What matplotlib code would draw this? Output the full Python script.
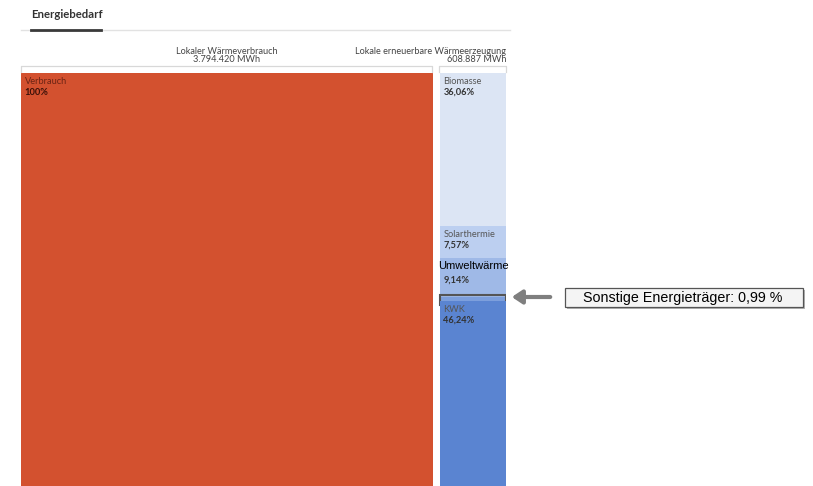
from matplotlib import pyplot as plt
from matplotlib.patches import Rectangle, FancyArrowPatch
import matplotlib

matplotlib.rc("font", family=["Lato", "DejaVu Sans"])

# Daten
verbrauch_mwh = 3794420
erzeugung_mwh = 608887
kopf_links = ["Lokaler Wärmeverbrauch", "3.794.420 MWh"]
kopf_rechts = ["Lokale erneuerbare Wärmeerzeugung", "608.887 MWh"]

traeger = ["Biomasse", "Solarthermie", "Umweltwärme", "Sonstige", "KWK"]
anteile = [36.06, 7.57, 9.14, 0.99, 46.24]
anteil_text = ["36,06%", "7,57%", "9,14%", "", "46,24%"]
farben = ["#dce5f4", "#bccff0", "#9fb9e7", "#7d9fdc", "#5a84d1"]

W, H = 813, 486
fig = plt.figure(figsize=(W / 100, H / 100), dpi=100)

def px(x, y):
    return x / W, 1 - y / H

# Achse: links 21px, rechts 506px, oben 73px, unten 497px (unten abgeschnitten)
ax = fig.add_axes([21 / W, 1 - 497 / H, 485 / W, 424 / H])
luecke = (verbrauch_mwh + erzeugung_mwh) * 7 / 478
x_rechts = verbrauch_mwh + luecke
ax.set_xlim(0, verbrauch_mwh + luecke + erzeugung_mwh)
ax.set_ylim(100, 0)
ax.axis("off")

fs = 6.7

# Verbrauch
ax.bar(0, 100, width=verbrauch_mwh, bottom=0, align="edge", color="#d3512f")
ax.annotate("Verbrauch", (0, 0), xytext=(2.5, -3), textcoords="offset points",
            va="top", ha="left", fontsize=fs, color="#5a1c10", alpha=0.85)
ax.annotate("100%", (0, 0), xytext=(2.5, -10.5), textcoords="offset points",
            va="top", ha="left", fontsize=fs, fontweight="bold", color="#3a1008")

# Erzeugung gestapelt
unten = 0
for name, a, t, f in zip(traeger, anteile, anteil_text, farben):
    ax.bar(x_rechts, a, width=erzeugung_mwh, bottom=unten, align="edge", color=f)
    if name == "Umweltwärme":
        ax.annotate(name, (x_rechts, unten), xytext=(-1.5, -2), textcoords="offset points",
                    va="top", ha="left", fontsize=8, color="black",
                    family=["Liberation Sans", "DejaVu Sans"])
        ax.annotate(t, (x_rechts, unten), xytext=(2.5, -12.5), textcoords="offset points",
                    va="top", ha="left", fontsize=fs, fontweight="bold", color="#333333")
    elif name == "Sonstige":
        ax.add_patch(Rectangle((x_rechts, unten - 0.3), erzeugung_mwh, a + 1.3,
                               fill=False, edgecolor="#555555", linewidth=1.5))
    else:
        ax.annotate(name, (x_rechts, unten), xytext=(2.5, -3), textcoords="offset points",
                    va="top", ha="left", fontsize=fs, color="#555555")
        ax.annotate(t, (x_rechts, unten), xytext=(2.5, -10.5), textcoords="offset points",
                    va="top", ha="left", fontsize=fs, fontweight="bold", color="#333333")
    unten += a

# Titel mit Reiter
fig.text(*px(31, 15), "Energiebedarf", fontsize=8.2, fontweight="bold",
         color="#333333", va="center", ha="left")
fig.add_artist(plt.Line2D([21 / W, 510 / W], [1 - 30 / H] * 2, color="#e2e2e2", linewidth=1))
fig.add_artist(plt.Line2D([31 / W, 101 / W], [1 - 30 / H] * 2, color="#3a3a3a", linewidth=2))

# Klammern ueber den Balken
for x0, x1 in [(21, 432), (439, 506)]:
    fig.add_artist(plt.Line2D([x0 / W, x0 / W, x1 / W, x1 / W],
                              [1 - 72 / H, 1 - 66 / H, 1 - 66 / H, 1 - 72 / H],
                              color="#d8d8d8", linewidth=0.9))

fig.text(*px(227, 51), kopf_links[0], fontsize=6.6, color="#444444", ha="center", va="center")
fig.text(*px(227, 60), kopf_links[1], fontsize=6.6, color="#444444", ha="center", va="center")
fig.text(*px(506, 51), kopf_rechts[0], fontsize=6.6, color="#444444", ha="right", va="center")
fig.text(*px(506, 60), kopf_rechts[1], fontsize=6.6, color="#444444", ha="right", va="center")

# Hinweis Sonstige
fig.add_artist(FancyArrowPatch(px(553, 297), px(509, 297),
               arrowstyle="-|>,head_length=6,head_width=4", color="#7f7f7f",
               linewidth=3, mutation_scale=1))
sw, sh = 238 / W, 19 / H
sx0, sy0 = px(567, 309)
fig.add_artist(Rectangle((sx0, sy0), sw, sh, transform=fig.transFigure,
                         facecolor="#b5b5b5", edgecolor="none"))
sx0, sy0 = px(565, 307)
fig.add_artist(Rectangle((sx0, sy0), sw, sh, transform=fig.transFigure,
                         facecolor="#f4f4f4", edgecolor="#555555", linewidth=0.9))
fig.text(*px(683, 297.5), "Sonstige Energieträger: 0,99 %", fontsize=10.3,
         family=["Liberation Sans", "DejaVu Sans"], color="black", ha="center", va="center")

plt.savefig("out.png", dpi=100)
